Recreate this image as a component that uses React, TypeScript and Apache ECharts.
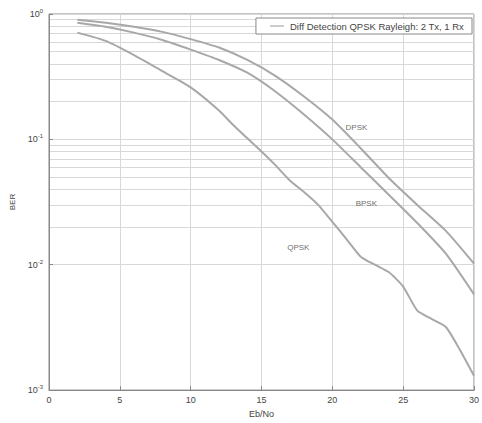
import React, { useEffect, useRef } from "react";
import * as echarts from "echarts";

const legendName = "Diff Detection QPSK Rayleigh: 2 Tx, 1 Rx";
const ebnoEven = [2, 4, 6, 8, 10, 12, 14, 16, 18, 20, 22, 24, 26, 28, 30];
const dpskBer = [0.9, 0.85, 0.79, 0.72, 0.63, 0.54, 0.43, 0.32, 0.22, 0.144, 0.085, 0.049, 0.03, 0.0187, 0.0102];
const bpskBer = [0.85, 0.79, 0.71, 0.62, 0.52, 0.43, 0.34, 0.24, 0.158, 0.1, 0.06, 0.036, 0.0215, 0.0123, 0.0058];
const qpskEbno = [2, 4, 6, 8, 10, 12, 13, 14, 15, 16, 17, 18, 19, 20, 21, 22, 23, 24, 25, 26, 27, 28, 29, 30];
const qpskBer = [0.71, 0.61, 0.47, 0.35, 0.26, 0.17, 0.13, 0.102, 0.08, 0.062, 0.047, 0.038, 0.03, 0.022, 0.016, 0.0116, 0.01, 0.0087, 0.0067, 0.0043, 0.0037, 0.0032, 0.0021, 0.0013];
const minorGrid = [
  0.002, 0.003, 0.004, 0.005, 0.006, 0.007, 0.008, 0.009,
  0.02, 0.03, 0.04, 0.05, 0.06, 0.07, 0.08, 0.09,
  0.2, 0.3, 0.4, 0.5, 0.6, 0.7, 0.8, 0.9,
];
const annotations = [
  { name: "DPSK", x: 21.7, y: 0.124 },
  { name: "BPSK", x: 22.4, y: 0.031 },
  { name: "QPSK", x: 17.6, y: 0.0136 },
];

const FONT = "Liberation Sans";
const CURVE = "#a8a8a8";
const GRIDC = "#d8d8d8";

export default function App() {
  const ref = useRef<HTMLDivElement>(null);
  useEffect(() => {
    if (!ref.current) return;
    const chart = echarts.init(ref.current, null, { renderer: "svg" });
    const pairs = (xs: number[], ys: number[]) => xs.map((x, i) => [x, ys[i]]);
    chart.setOption({
      animation: false,
      backgroundColor: "#fff",
      textStyle: { fontFamily: FONT },
      grid: {
        left: 47,
        right: 5,
        top: 14,
        bottom: 31,
        show: true,
        borderColor: "#888",
        borderWidth: 1,
        backgroundColor: "#fff",
      },
      legend: {
        data: [{ name: legendName, icon: "rect" }],
        right: 10,
        top: 18,
        orient: "horizontal",
        backgroundColor: "#fff",
        borderColor: "#888",
        borderWidth: 1,
        padding: [3, 8, 3, 14],
        itemWidth: 14,
        itemHeight: 1,
        itemGap: 4,
        itemStyle: { color: "#999" },
        textStyle: { fontSize: 9.5, color: "#444", fontFamily: FONT, padding: [0, 0, 0, 1] },
      },
      xAxis: {
        type: "value",
        min: 0,
        max: 30,
        interval: 5,
        name: "Eb/No",
        nameLocation: "middle",
        nameGap: 17,
        nameTextStyle: { fontSize: 9, color: "#444" },
        axisLine: { show: true, lineStyle: { color: "#888" } },
        axisTick: { show: true, inside: true, length: 4, lineStyle: { color: "#888" } },
        axisLabel: { fontSize: 9, color: "#444", margin: 5 },
        splitLine: { show: true, lineStyle: { color: GRIDC, width: 1 } },
      },
      yAxis: {
        type: "log",
        min: 0.001,
        max: 1,
        logBase: 10,
        name: "BER",
        nameLocation: "middle",
        nameGap: 33,
        nameTextStyle: { fontSize: 8, color: "#444" },
        axisLine: { show: true, lineStyle: { color: "#888" } },
        axisTick: { show: true, inside: true, length: 4, lineStyle: { color: "#888" } },
        axisLabel: {
          margin: 6,
          formatter: (v: number) => `{b|10}{s|${Math.round(Math.log10(v))}}`,
          rich: {
            b: { fontSize: 9, color: "#444", fontFamily: FONT },
            s: { fontSize: 6, color: "#444", fontFamily: FONT, verticalAlign: "top", padding: [0, 0, 6, 0] },
          },
        },
        splitLine: { show: true, lineStyle: { color: GRIDC, width: 1 } },
      },
      series: [
        {
          name: legendName,
          type: "line",
          data: pairs(ebnoEven, dpskBer),
          symbol: "none",
          smooth: 0.2,
          lineStyle: { color: CURVE, width: 2 },
          itemStyle: { color: CURVE },
          markLine: {
            silent: true,
            symbol: "none",
            label: { show: false },
            lineStyle: { color: GRIDC, width: 1, type: "solid" },
            data: minorGrid.map((v) => ({ yAxis: v })),
            z: 0,
          },
          z: 3,
        },
        {
          name: "BPSK",
          type: "line",
          data: pairs(ebnoEven, bpskBer),
          symbol: "none",
          smooth: 0.2,
          lineStyle: { color: CURVE, width: 2 },
          itemStyle: { color: CURVE },
          z: 3,
        },
        {
          name: "QPSK",
          type: "line",
          data: pairs(qpskEbno, qpskBer),
          symbol: "none",
          smooth: 0.2,
          lineStyle: { color: CURVE, width: 2 },
          itemStyle: { color: CURVE },
          z: 3,
        },
        {
          name: "labels",
          type: "scatter",
          data: annotations.map((a) => ({ value: [a.x, a.y], name: a.name })),
          symbolSize: 0,
          label: {
            show: true,
            position: "inside",
            formatter: (p: any) => p.name,
            fontSize: 8,
            color: "#444",
            fontFamily: FONT,
          },
          z: 4,
        },
      ],
    });
    return () => chart.dispose();
  }, []);
  return <div ref={ref} style={{ width: 482, height: 423, position: "absolute", left: 0, top: 0 }} />;
}
